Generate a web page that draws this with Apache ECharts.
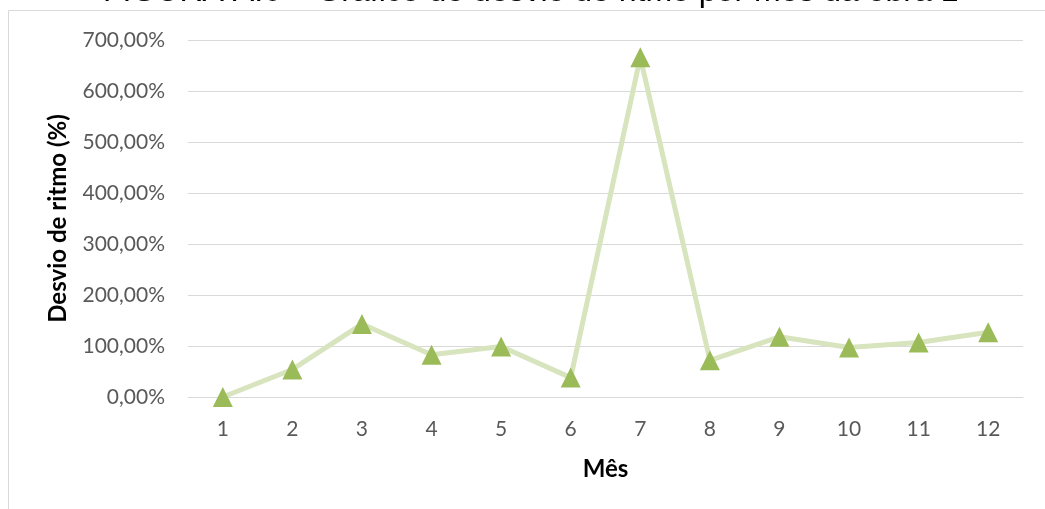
<!DOCTYPE html>
<html>
<head>
<meta charset="utf-8">
<script src="https://cdn.jsdelivr.net/npm/echarts@6/dist/echarts.min.js"></script>
<style>
  html, body { margin: 0; padding: 0; background: #ffffff; }
  #chart { width: 1045px; height: 509px; }
</style>
</head>
<body>
<div id="chart"></div>
<script>
// Monthly pace deviation for work 1 (fractions: 1 = 100%)
const months = ['1', '2', '3', '4', '5', '6', '7', '8', '9', '10', '11', '12'];
const paceDeviation = [0.00, 0.54, 1.43, 0.83, 0.99, 0.38, 6.66, 0.72, 1.18, 0.97, 1.07, 1.27];
const titleText = 'FIGURA A.6 – Gráfico de desvio de ritmo por mês da obra 1';
const xAxisName = 'Mês';
const yAxisName = 'Desvio de ritmo (%)';

const chart = echarts.init(document.getElementById('chart'), null, { renderer: 'canvas' });

const fmtPct = v => (v * 100).toFixed(2).replace('.', ',') + '%';

chart.setOption({
  animation: false,
  backgroundColor: '#ffffff',
  graphic: [
    {
      type: 'rect',
      shape: { x: 8.5, y: 10.5, width: 1100, height: 600 },
      style: { fill: 'none', stroke: '#d9d9d9', lineWidth: 1 },
      z: -1
    },
    {
      type: 'text',
      x: 103,
      y: -8,
      style: {
        text: titleText,
        font: '32px "Liberation Sans", Arial, sans-serif',
        fill: '#000000',
        align: 'left',
        verticalAlign: 'middle'
      }
    }
  ],
  grid: { left: 188, right: 22, top: 40, bottom: 112, containLabel: false },
  xAxis: {
    type: 'category',
    data: months,
    boundaryGap: true,
    name: xAxisName,
    nameLocation: 'middle',
    nameGap: 60,
    nameTextStyle: { fontFamily: 'Lato', fontWeight: 'bold', fontSize: 24, color: '#000000' },
    axisLine: { show: true, lineStyle: { color: '#d9d9d9', width: 1 } },
    axisTick: { show: false },
    axisLabel: { fontFamily: 'Lato', fontSize: 21, color: '#595959', margin: 22 }
  },
  yAxis: {
    type: 'value',
    min: 0,
    max: 7,
    interval: 1,
    name: yAxisName,
    nameLocation: 'middle',
    nameGap: 118,
    nameRotate: 90,
    nameTextStyle: { fontFamily: 'Lato', fontWeight: 'bold', fontSize: 24, color: '#000000' },
    axisLine: { show: false },
    axisTick: { show: false },
    splitLine: { show: true, lineStyle: { color: '#d9d9d9', width: 1 } },
    axisLabel: { fontFamily: 'Lato', fontSize: 21, color: '#595959', margin: 23, formatter: fmtPct }
  },
  series: [
    {
      type: 'line',
      data: paceDeviation,
      symbol: 'triangle',
      symbolSize: [20, 20],
      showAllSymbol: true,
      lineStyle: { color: '#d7e4bd', width: 5 },
      itemStyle: { color: '#9bbb59' },
      z: 3
    }
  ]
});
</script>
</body>
</html>
